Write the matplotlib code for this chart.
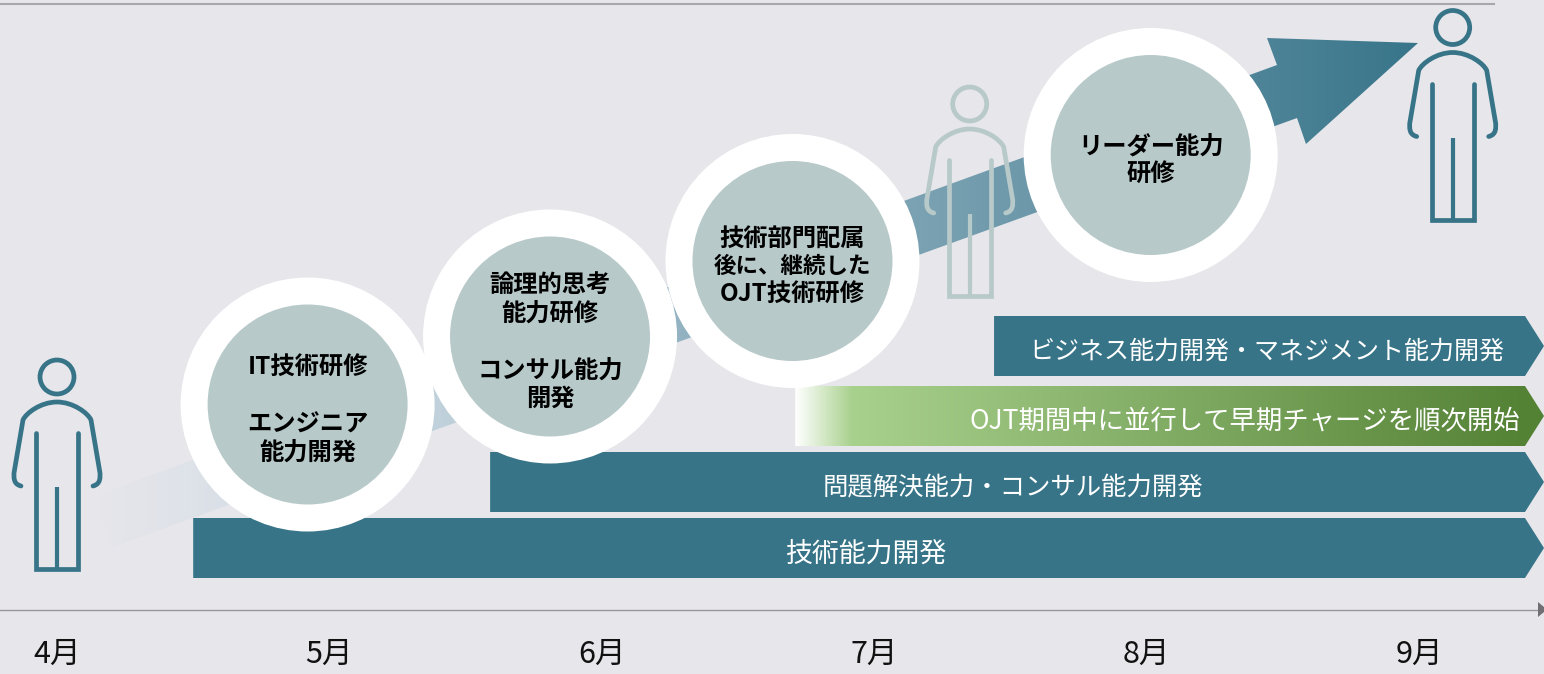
import numpy as np
import matplotlib
matplotlib.use("Agg")
import matplotlib.pyplot as plt
from matplotlib.patches import Circle, Polygon, PathPatch
from matplotlib.path import Path
from matplotlib.colors import to_rgb

plt.rcParams['font.family'] = ['Noto Sans CJK JP', 'DejaVu Sans']

# ---- content ----
MONTHS = ["4月", "5月", "6月", "7月", "8月", "9月"]
BAR_LABELS = ["技術能力開発", "問題解決能力・コンサル能力開発",
              "OJT期間中に並行して早期チャージを順次開始",
              "ビジネス能力開発・マネジメント能力開発"]
BAR_START_MONTH = [0.50, 1.59, 2.71, 3.44]   # months after 4月
BAR_TEXT_MONTH = [2.97, 3.51, 4.36, 4.44]
BAR_FONT = [19.4, 18.3, 19.0, 18.0]
STAGE_MONTH = [0.92, 1.81, 2.70, 4.015]
STAGE_LINES = [["IT技術研修", "", "エンジニア", "能力開発"],
               ["論理的思考", "能力研修", "", "コンサル能力", "開発"],
               ["技術部門配属", "後に、継続した", "OJT技術研修"],
               ["リーダー能力", "研修"]]

BG = "#e6e6eb"; TEAL = "#377488"; PALE = "#b8c9c9"; GREY = "#98989c"

fig = plt.figure(figsize=(15.44, 6.74), dpi=100, facecolor=BG)
ax = fig.add_axes([0, 0, 1, 1], facecolor=BG)
ax.axis("off")
W, H = 1544, 674
mx = lambda m: 57 + 272.4 * np.asarray(m)

yy, xx = np.mgrid[0:H, 0:W]

# ---- growth arrow (gradient clipped to shape) ----
arrow_pts = [(97, 495), (1277, 65), (1267, 38), (1418, 43), (1306, 144), (1297, 118), (112, 547)]
stops = [100, 190, 440, 680, 915, 1030, 1290, 1418]
cols = ["#e6e6eb", "#dee2e9", "#c0d1db", "#93b3c2", "#7ba2b3", "#6c98a9", "#4a8195", "#38758a"]
rgb = np.array([to_rgb(c) for c in cols])
grad = np.stack([np.interp(xx, stops, rgb[:, i]) for i in range(3)], axis=-1)
im = ax.imshow(grad, extent=(0, W, H, 0), aspect="auto", zorder=1, interpolation="bilinear")
clip = Polygon(arrow_pts, closed=True, transform=ax.transData, fc="none", ec="none")
ax.add_patch(clip); im.set_clip_path(clip)

# ---- timeline ----
ax.plot([0, 1494], [3.5, 3.5], color="#a8a8ac", lw=1.5, zorder=2)
ax.plot([0, 1538], [609.5, 609.5], color=GREY, lw=1.0, zorder=2)
ax.add_patch(Polygon([(1538, 602), (1538, 617), (1547, 609.5)], fc="#707074", ec="none", zorder=2))
for i, m in enumerate(MONTHS):
    ax.text(mx(i), 654, m, ha="center", va="center", fontsize=22, color="#111111", zorder=5)

# ---- phase bars ----
BAR_Y = [(518, 578), (452, 512), (386, 446), (316, 376)]
for i, (lab, st, tx, fs) in enumerate(zip(BAR_LABELS, BAR_START_MONTH, BAR_TEXT_MONTH, BAR_FONT)):
    top, bot = BAR_Y[i]
    x0 = mx(st)
    pts = [(x0, top), (1525, top), (1544, (top + bot) / 2), (1525, bot), (x0, bot)]
    if i == 2:
        gs = [x0, x0 + 56, 1525]
        gc = np.array([to_rgb(c) for c in ["#ffffff", "#a9d18e", "#548235"]])
        g = np.stack([np.interp(xx, gs, gc[:, k]) for k in range(3)], axis=-1)
        gi = ax.imshow(g, extent=(0, W, H, 0), aspect="auto", zorder=2, interpolation="bilinear")
        cp = Polygon(pts, closed=True, transform=ax.transData, fc="none", ec="none")
        ax.add_patch(cp); gi.set_clip_path(cp)
    else:
        ax.add_patch(Polygon(pts, closed=True, fc=TEAL, ec="none", zorder=2))
    ax.text(mx(tx), (top + bot) / 2 + 6, lab, ha="center", va="center",
            fontsize=fs, color="white", zorder=3)

# ---- stage circles ----
CENTERS_Y = [404.5, 336.5, 261, 155]
STEP = [28.5, 28.5, 27.5, 27]
for m, cy, lines, step in zip(STAGE_MONTH, CENTERS_Y, STAGE_LINES, STEP):
    cx = mx(m)
    ax.add_patch(Circle((cx, cy), 127, fc="white", ec="none", zorder=4))
    ax.add_patch(Circle((cx, cy), 100, fc=PALE, ec="none", zorder=4.5))
    n = len(lines)
    for j, ln in enumerate(lines):
        ax.text(cx, cy + 5.5 + (j - (n - 1) / 2) * step, ln, ha="center", va="center",
                fontsize=16.2 if "、" in ln else 17.5, fontweight="bold", color="black", zorder=6)

# ---- person icons ----
def person(x, y, color, z=3):
    """x = centre line, y = centre of head"""
    kw = dict(fc="none", ec=color, lw=3.4, zorder=z, capstyle="round", joinstyle="miter")
    ax.add_patch(Circle((x, y), 17, **{k: v for k, v in kw.items() if k not in ("capstyle", "joinstyle")}))
    M, L, C = Path.MOVETO, Path.LINETO, Path.CURVE4
    body = [(-36, 109), (-44, 107), (-43, 100), (-43, 96), (-34, 43), (-31, 36), (-16, 25), (0, 25),
            (16, 25), (31, 36), (34, 43), (43, 96), (43, 100), (44, 107), (36, 109)]
    codes = [M, C, C, C, L, C, C, C, C, C, C, L, C, C, C]
    ax.add_patch(PathPatch(Path([(x + a, y + b) for a, b in body], codes), **kw))
    legs = [(-21, 56), (-21, 192), (21, 192), (21, 56)]
    ax.add_patch(PathPatch(Path([(x + a, y + b) for a, b in legs], [M, L, L, L]), **kw))
    ax.add_patch(PathPatch(Path([(x, y + 110), (x, y + 192)], [M, L]),
                           fc="none", ec=color, lw=3.0, zorder=z, capstyle="butt"))

person(57, 377, TEAL)
person(969.7, 104, PALE)
person(1452.7, 27.5, TEAL)

ax.set_xlim(0, W); ax.set_ylim(H, 0)
fig.savefig("out.png", dpi=100, facecolor=BG)
